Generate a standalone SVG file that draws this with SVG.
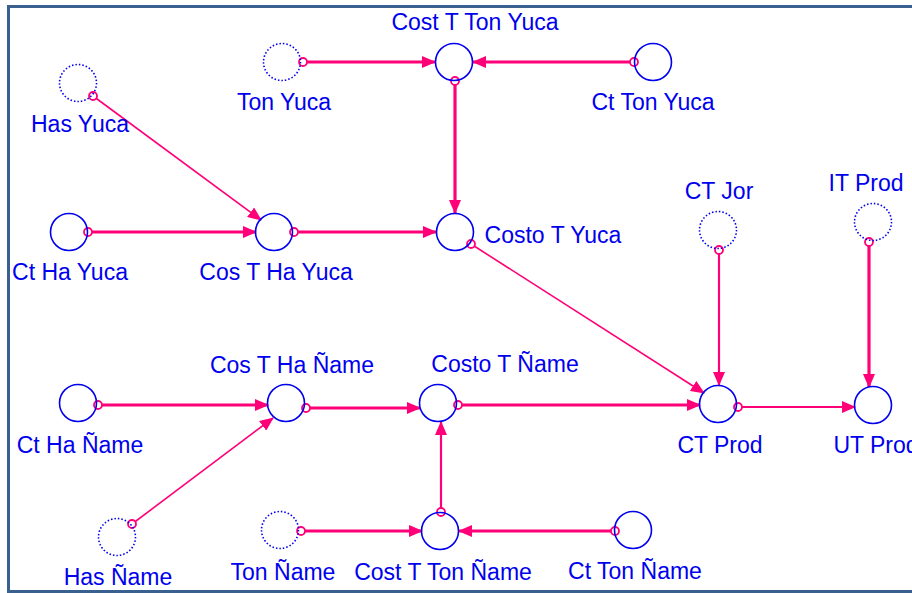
<svg xmlns="http://www.w3.org/2000/svg" width="912" height="593" viewBox="0 0 912 593">
<style>
.n{fill:none;stroke:#0000ee;stroke-width:1.6}
.d{fill:none;stroke:#0000ee;stroke-width:1.6;stroke-dasharray:1.5 2}
.t{font-family:"Liberation Sans",Arial,sans-serif;font-size:23px;fill:#0000ee;text-anchor:middle}
.c{fill:none;stroke:#ff0078}
.k{stroke-width:3.2}
.h{stroke-width:1.6}
.m{stroke-width:2.2}
.o{fill:#fff;stroke:#ff0078;stroke-width:1.8}
</style>
<defs>
<marker id="a" markerUnits="userSpaceOnUse" viewBox="0 0 14 12" refX="13" refY="6" markerWidth="14" markerHeight="12" orient="auto">
<path d="M0,0 L14,6 L0,12 Z" fill="#ff0078"/>
</marker>
</defs>
<rect x="0" y="0" width="912" height="593" fill="#fff"/>
<path d="M8.5,593 V6.5 H912 M8.5,591.5 H912" fill="none" stroke="#3a6090" stroke-width="3"/>
<g id="connectors">
<line class="c k" x1="303" y1="62" x2="435" y2="62" marker-end="url(#a)"/>
<line class="c k" x1="634" y1="62" x2="473" y2="62" marker-end="url(#a)"/>
<line class="c k" x1="455" y1="81" x2="455" y2="213" marker-end="url(#a)"/>
<line class="c h" x1="93" y1="96" x2="261" y2="220" marker-end="url(#a)"/>
<line class="c k" x1="88" y1="232" x2="256" y2="232" marker-end="url(#a)"/>
<line class="c k" x1="294" y1="232" x2="436" y2="232" marker-end="url(#a)"/>
<line class="c h" x1="471" y1="244" x2="704" y2="393" marker-end="url(#a)"/>
<line class="c m" x1="719" y1="250" x2="719" y2="385" marker-end="url(#a)"/>
<line class="c k" x1="869" y1="242" x2="869" y2="387" marker-end="url(#a)"/>
<line class="c m" x1="738" y1="407" x2="855" y2="407" marker-end="url(#a)"/>
<line class="c k" x1="458" y1="405" x2="700" y2="405" marker-end="url(#a)"/>
<line class="c k" x1="98" y1="405" x2="268" y2="405" marker-end="url(#a)"/>
<line class="c k" x1="306" y1="408" x2="420" y2="408" marker-end="url(#a)"/>
<line class="c h" x1="132" y1="524" x2="273" y2="418" marker-end="url(#a)"/>
<line class="c k" x1="301" y1="531" x2="422" y2="531" marker-end="url(#a)"/>
<line class="c k" x1="615" y1="531" x2="459" y2="531" marker-end="url(#a)"/>
<line class="c m" x1="441" y1="512" x2="441" y2="422" marker-end="url(#a)"/>
<circle class="o" cx="303" cy="62" r="4"/>
<circle class="o" cx="634" cy="62" r="4"/>
<circle class="o" cx="455" cy="81" r="4"/>
<circle class="o" cx="93" cy="96" r="4"/>
<circle class="o" cx="88" cy="232" r="4"/>
<circle class="o" cx="294" cy="232" r="4"/>
<circle class="o" cx="471" cy="244" r="4"/>
<circle class="o" cx="719" cy="250" r="4"/>
<circle class="o" cx="869" cy="242" r="4"/>
<circle class="o" cx="738" cy="407" r="4"/>
<circle class="o" cx="458" cy="405" r="4"/>
<circle class="o" cx="98" cy="405" r="4"/>
<circle class="o" cx="306" cy="408" r="4"/>
<circle class="o" cx="132" cy="524" r="4"/>
<circle class="o" cx="301" cy="531" r="4"/>
<circle class="o" cx="615" cy="531" r="4"/>
<circle class="o" cx="441" cy="512" r="4"/>
</g>
<g id="has-yuca"><circle class="d" cx="78" cy="83" r="18.5"/><text class="t" x="80" y="132">Has Yuca</text></g>
<g id="ton-yuca"><circle class="d" cx="282" cy="62" r="18.5"/><text class="t" x="284" y="110">Ton Yuca</text></g>
<g id="cost-t-ton-yuca"><circle class="n" cx="454" cy="62" r="18.5"/><text class="t" x="475" y="30">Cost T Ton Yuca</text></g>
<g id="ct-ton-yuca"><circle class="n" cx="653" cy="62" r="18.5"/><text class="t" x="653" y="110">Ct Ton Yuca</text></g>
<g id="ct-ha-yuca"><circle class="n" cx="69" cy="232" r="18.5"/><text class="t" x="70" y="280">Ct Ha Yuca</text></g>
<g id="cos-t-ha-yuca"><circle class="n" cx="274" cy="232" r="18.5"/><text class="t" x="276" y="280">Cos T Ha Yuca</text></g>
<g id="costo-t-yuca"><circle class="n" cx="455" cy="232" r="18.5"/><text class="t" x="553" y="243">Costo T Yuca</text></g>
<g id="ct-jor"><circle class="d" cx="718" cy="230" r="18.5"/><text class="t" x="719" y="199">CT Jor</text></g>
<g id="it-prod"><circle class="d" cx="873" cy="222" r="18.5"/><text class="t" x="866" y="191">IT Prod</text></g>
<g id="ct-prod"><circle class="n" cx="718" cy="404" r="18.5"/><text class="t" x="720" y="453">CT Prod</text></g>
<g id="ut-prod"><circle class="n" cx="873" cy="405" r="18.5"/><text class="t" x="876" y="453">UT Prod</text></g>
<g id="costo-t-name"><circle class="n" cx="438" cy="403" r="18.5"/><text class="t" x="505" y="372">Costo T Ñame</text></g>
<g id="ct-ha-name"><circle class="n" cx="78" cy="403" r="18.5"/><text class="t" x="80" y="453">Ct Ha Ñame</text></g>
<g id="cos-t-ha-name"><circle class="n" cx="286" cy="403" r="18.5"/><text class="t" x="292" y="373">Cos T Ha Ñame</text></g>
<g id="has-name"><circle class="d" cx="117" cy="537" r="18.5"/><text class="t" x="118" y="585">Has Ñame</text></g>
<g id="ton-name"><circle class="d" cx="280" cy="530" r="18.5"/><text class="t" x="283" y="580">Ton Ñame</text></g>
<g id="cost-t-ton-name"><circle class="n" cx="440" cy="531" r="18.5"/><text class="t" x="443" y="580">Cost T Ton Ñame</text></g>
<g id="ct-ton-name"><circle class="n" cx="633" cy="530" r="18.5"/><text class="t" x="635" y="579">Ct Ton Ñame</text></g>
</svg>
